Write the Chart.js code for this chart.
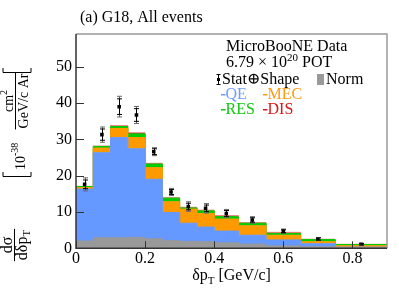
<!DOCTYPE html>
<html>
<head>
<meta charset="utf-8">
<script src="https://cdn.jsdelivr.net/npm/chart.js@4.4.1/dist/chart.umd.min.js"></script>
<style>
  body { margin: 0; background: #fff; }
  #wrap { width: 399px; height: 289px; }
</style>
</head>
<body>
<div id="wrap"><canvas id="chart" width="399" height="289"></canvas></div>
<script>
// bin edges of delta pT [GeV/c]
const binEdges = [0, 0.05, 0.1, 0.15, 0.2, 0.25, 0.3, 0.35, 0.4, 0.47, 0.55, 0.65, 0.75, 0.9];
// stacked prediction pieces (10^-38 cm2 / GeV/c Ar)
const qe  = [16.3, 26.3, 30.5, 27.4, 19.0, 9.85, 6.9, 5.85, 4.75, 3.6, 2.3, 1.25, 0.33];
const mec = [0.4, 1.3, 2.5, 3.1, 3.2, 2.95, 3.9, 3.75, 3.3, 2.6, 1.3, 0.55, 0.37];
const res = [0.3, 0.45, 0.5, 1.0, 1.0, 1.0, 0.3, 0.7, 0.65, 0.7, 0.5, 0.6, 0.35];
const dis = [0.05, 0.1, 0.3, 0.3, 0.2, 0.15, 0.2, 0.2, 0.3, 0.2, 0.3, 0.1, 0.05];
const norm = [2.0, 2.9, 2.9, 3.0, 2.6, 2.1, 1.9, 1.8, 1.5, 1.15, 0.65, 0.4, 0.2];
// data points
const dataX = [0.025, 0.075, 0.125, 0.175, 0.225, 0.275, 0.325, 0.375, 0.435, 0.51, 0.6, 0.7, 0.825];
const dataY = [17.6, 31.3, 39.0, 36.7, 26.6, 15.5, 11.5, 11.0, 9.6, 7.8, 4.7, 2.55, 1.1];
const errStat = [1.2, 1.55, 2.15, 1.75, 0.8, 0.7, 0.9, 0.9, 0.8, 0.6, 0.4, 0.3, 0.2];
const errTotal = [1.8, 2.1, 2.85, 2.35, 1.1, 1.0, 1.3, 1.3, 1.1, 0.9, 0.6, 0.4, 0.3];
const xTicks = [0, 0.2, 0.4, 0.6, 0.8];
const yTicks = [0, 10, 20, 30, 40, 50];

const serif = "'Liberation Serif', 'DejaVu Serif', serif";

function histPoints(vals) {
	return binEdges.map(function(x, i) {
		return { x: x, y: vals[Math.min(i, vals.length - 1)] };
	});
}

function histSet(label, vals, color, fill) {
	return {
		label: label,
		data: histPoints(vals),
		stepped: true,
		fill: fill,
		backgroundColor: color,
		borderColor: color,
		borderWidth: 1,
		pointRadius: 0,
		stack: "mc"
	};
}

// draws rotated text: baseline at screen x = bx, starting at screen y = by going upward
function rotText(ctx, text, bx, by, font, color) {
	ctx.save();
	ctx.translate(bx, by);
	ctx.rotate(-Math.PI / 2);
	ctx.font = font;
	ctx.fillStyle = color || "#000";
	ctx.textAlign = "left";
	ctx.textBaseline = "alphabetic";
	ctx.fillText(text, 0, 0);
	const w = ctx.measureText(text).width;
	ctx.restore();
	return w;
}

const framePlugin = {
	id: "frame",
	afterDatasetsDraw: function(chart) {
		const ctx = chart.ctx;
		const a = chart.chartArea;
		const xs = chart.scales.x;
		const ys = chart.scales.y;

		// error bars
		ctx.save();
		for (let i = 0; i < dataX.length; i++) {
			const px = Math.round(xs.getPixelForValue(dataX[i])) + 0.5;
			const t1 = ys.getPixelForValue(dataY[i] + errTotal[i]);
			const t2 = ys.getPixelForValue(dataY[i] - errTotal[i]);
			const s1 = ys.getPixelForValue(dataY[i] + errStat[i]);
			const s2 = ys.getPixelForValue(dataY[i] - errStat[i]);
			ctx.strokeStyle = "#666";
			ctx.lineWidth = 1;
			ctx.beginPath();
			ctx.moveTo(px, t1); ctx.lineTo(px, t2);
			ctx.moveTo(px - 2.5, t1); ctx.lineTo(px + 2.5, t1);
			ctx.moveTo(px - 2.5, t2); ctx.lineTo(px + 2.5, t2);
			ctx.stroke();
			ctx.strokeStyle = "#000";
			ctx.beginPath();
			ctx.moveTo(px, s1); ctx.lineTo(px, s2);
			ctx.moveTo(px - 2.5, s1); ctx.lineTo(px + 2.5, s1);
			ctx.moveTo(px - 2.5, s2); ctx.lineTo(px + 2.5, s2);
			ctx.stroke();
		}
		ctx.restore();

		// frame and ticks
		ctx.save();
		ctx.strokeStyle = "#999";
		ctx.lineWidth = 1.5;
		ctx.beginPath();
		ctx.moveTo(a.left, a.top); ctx.lineTo(a.right, a.top); ctx.lineTo(a.right, a.bottom);
		ctx.stroke();
		ctx.strokeStyle = "#333";
		ctx.lineWidth = 1.5;
		ctx.beginPath();
		ctx.moveTo(a.left, a.top); ctx.lineTo(a.left, a.bottom); ctx.lineTo(a.right, a.bottom);
		ctx.stroke();
		ctx.lineWidth = 1;
		ctx.beginPath();
		xTicks.forEach(function(v) {
			const px = Math.round(xs.getPixelForValue(v)) + 0.5;
			ctx.moveTo(px, a.bottom); ctx.lineTo(px, a.bottom - 7);
		});
		yTicks.forEach(function(v) {
			const py = Math.round(ys.getPixelForValue(v)) + 0.5;
			ctx.moveTo(a.left, py); ctx.lineTo(a.left + 8, py);
		});
		ctx.stroke();
		ctx.restore();
	},
	afterDraw: function(chart) {
		const ctx = chart.ctx;
		const a = chart.chartArea;
		ctx.save();
		ctx.fillStyle = "#000";
		ctx.textBaseline = "alphabetic";

		// title
		ctx.font = "16px " + serif;
		ctx.textAlign = "left";
		ctx.fillText("(a) G18, All events", 80, 22);

		// legend text
		ctx.fillText("MicroBooNE Data", 226, 51);
		let w = ctx.measureText("6.79 \u00d7 10").width;
		ctx.fillText("6.79 \u00d7 10", 226, 67);
		ctx.font = "11px " + serif;
		ctx.fillText("20", 226 + w, 61);
		const w2 = ctx.measureText("20").width;
		ctx.font = "16px " + serif;
		ctx.fillText(" POT", 226 + w + w2, 67);

		// stat+shape marker
		ctx.strokeStyle = "#000";
		ctx.lineWidth = 1;
		ctx.beginPath();
		ctx.moveTo(218.5, 74); ctx.lineTo(218.5, 85);
		ctx.moveTo(216.5, 74.5); ctx.lineTo(220.5, 74.5);
		ctx.moveTo(216.5, 84.5); ctx.lineTo(220.5, 84.5);
		ctx.stroke();
		ctx.fillRect(217, 78, 3, 3);
		ctx.fillText("Stat\u2295Shape", 222, 84);
		ctx.fillStyle = "#999";
		ctx.fillRect(317, 74, 7, 11);
		ctx.fillStyle = "#000";
		ctx.fillText("Norm", 326, 84);

		const items = [
			["QE", "#6f9dff", 221, 99],
			["MEC", "#ff9a10", 263, 99],
			["RES", "#10c810", 221, 114],
			["DIS", "#d81818", 263, 114]
		];
		items.forEach(function(it) {
			ctx.fillStyle = it[1];
			ctx.fillRect(it[2], it[3] - 5, 4.5, 1.5);
			ctx.fillText(it[0], it[2] + 4.5, it[3]);
		});

		// x axis title
		ctx.fillStyle = "#000";
		ctx.font = "16px " + serif;
		const p1 = "\u03b4p";
		const p2 = " [GeV/c]";
		const wp1 = ctx.measureText(p1).width;
		const wp2 = ctx.measureText(p2).width;
		ctx.font = "11px " + serif;
		const wt = ctx.measureText("T").width;
		const total = wp1 + wt + wp2;
		let x0 = (a.left + a.right) / 2 - total / 2;
		ctx.font = "16px " + serif;
		ctx.fillText(p1, x0, 280);
		ctx.font = "11px " + serif;
		ctx.fillText("T", x0 + wp1, 284);
		ctx.font = "16px " + serif;
		ctx.fillText(p2, x0 + wp1 + wt, 280);

		// y axis title (rotated)
		const f = "14px " + serif;
		const fs = "10px " + serif;
		const fb = "16px " + serif;
		const fbs = "11px " + serif;
		// fraction d sigma / d delta pT
		ctx.font = fb;
		const wn1 = ctx.measureText("d\u03c3").width;
		const wd1 = ctx.measureText("d\u03b4p").width;
		ctx.font = fbs;
		const wT = ctx.measureText("T").width;
		const len1 = Math.max(wn1, wd1 + wT) + 2;
		const c1 = 245;
		rotText(ctx, "d\u03c3", 12, c1 + wn1 / 2, fb);
		rotText(ctx, "d\u03b4p", 27, c1 + (wd1 + wT) / 2, fb);
		rotText(ctx, "T", 30, c1 + (wd1 + wT) / 2 - wd1, fbs);
		ctx.fillStyle = "#000";
		ctx.fillRect(14, c1 - len1 / 2, 1, len1);
		// brackets
		ctx.strokeStyle = "#000";
		ctx.lineWidth = 1;
		ctx.beginPath();
		ctx.moveTo(3, 172); ctx.lineTo(3, 176.5); ctx.lineTo(31, 176.5); ctx.lineTo(31, 172);
		ctx.moveTo(3, 68); ctx.lineTo(3, 72.5); ctx.lineTo(31, 72.5); ctx.lineTo(31, 68);
		ctx.stroke();
		// 10^-38
		const w10 = rotText(ctx, "10", 25, 170, f);
		rotText(ctx, "-38", 18, 170 - w10, fs);
		// fraction cm2 / GeV/c Ar
		ctx.font = f;
		const wn2 = ctx.measureText("cm").width;
		ctx.font = fs;
		const ws2 = ctx.measureText("2").width;
		ctx.font = f;
		const wd2 = ctx.measureText("GeV/c Ar").width;
		const c2 = 101;
		rotText(ctx, "cm", 13, c2 + (wn2 + ws2) / 2, f);
		rotText(ctx, "2", 7, c2 + (wn2 + ws2) / 2 - wn2, fs);
		rotText(ctx, "GeV/c Ar", 28, c2 + wd2 / 2, f);
		ctx.fillStyle = "#000";
		ctx.fillRect(15, c2 - wd2 / 2 - 1, 1, wd2 + 2);

		ctx.restore();
	}
};

const ctx = document.getElementById("chart").getContext("2d");

const config = {
	type: "line",
	data: {
		datasets: [
			histSet("QE", qe, "#6699ff", "origin"),
			histSet("MEC", mec, "#ff9900", "-1"),
			histSet("RES", res, "#00cc00", "-1"),
			Object.assign(histSet("DIS", dis, "#dd1111", "-1"), { borderColor: "#ee8888" }),
			{
				label: "Norm",
				data: histPoints(norm),
				stepped: true,
				fill: "origin",
				backgroundColor: "#999999",
				borderColor: "#999999",
				borderWidth: 1,
				pointRadius: 0,
				stack: "norm",
				order: -1
			},
			{
				label: "Data",
				data: dataX.map(function(x, i) { return { x: x, y: dataY[i] }; }),
				showLine: false,
				pointStyle: "rect",
				pointRadius: 2.5,
				backgroundColor: "#000",
				borderColor: "#000",
				borderWidth: 0,
				stack: "data",
				order: -2
			}
		]
	},
	options: {
		responsive: false,
		animation: false,
		layout: { padding: { left: 0, top: 34, right: 12, bottom: 0 } },
		plugins: {
			legend: { display: false },
			tooltip: { enabled: false }
		},
		scales: {
			x: {
				type: "linear",
				min: 0,
				max: 0.9,
				grid: { display: false, drawTicks: false },
				border: { display: false },
				ticks: {
					stepSize: 0.2,
					includeBounds: false,
					padding: 1,
					maxRotation: 0,
					color: "#000",
					font: { family: serif, size: 16 },
					callback: function(v) { return v === 0 ? "0" : v.toFixed(1); }
				},
				afterFit: function(s) { s.height = 40.7; }
			},
			y: {
				stacked: true,
				min: 0,
				max: 59,
				grid: { display: false, drawTicks: false },
				border: { display: false },
				ticks: {
					stepSize: 10,
					includeBounds: false,
					padding: 4,
					color: "#000",
					font: { family: serif, size: 16 }
				},
				afterFit: function(s) { s.width = 76; }
			}
		}
	},
	plugins: [framePlugin]
};

new Chart(ctx, config);
</script>
</body>
</html>
